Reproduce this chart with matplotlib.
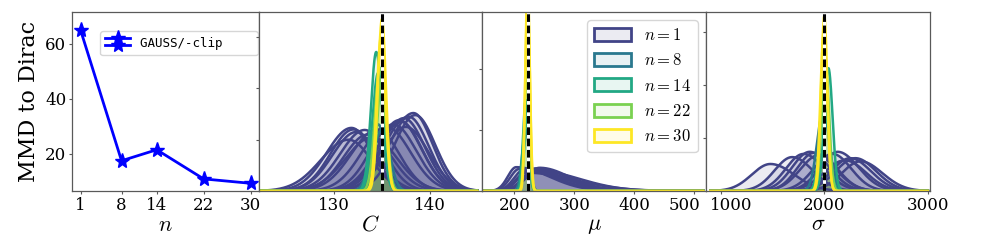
import numpy as np
import matplotlib.pyplot as plt
from matplotlib.colors import to_rgb
from matplotlib.patches import Patch
from matplotlib.transforms import ScaledTranslation
from matplotlib.legend_handler import HandlerLine2D

plt.rcParams['font.family'] = 'serif'
plt.rcParams['font.serif'] = ['DejaVu Serif']
plt.rcParams['mathtext.fontset'] = 'cm'

# MMD to Dirac as a function of n
n_values = [1, 8, 14, 22, 30]
mmd_values = [65.1, 17.5, 21.5, 10.9, 9.3]

n_labels = [1, 8, 14, 22, 30]
n_colors = ['#414487', '#2A788E', '#22A884', '#7AD151', '#FDE725']

# density curves: (centre, spread left, spread right, peak height)
C_n1 = [(131.8, 2.6, 2.2, 1.23), (132.0, 2.4, 2.4, 1.20), (132.3, 2.5, 2.0, 1.15),
        (133.2, 2.6, 2.2, 1.19), (133.5, 2.5, 2.5, 1.10), (134.0, 2.8, 2.6, 1.05),
        (134.5, 2.7, 2.3, 1.20), (135.5, 2.6, 2.5, 1.25), (136.2, 2.4, 2.4, 1.30),
        (136.8, 2.3, 2.3, 1.38), (137.0, 2.5, 2.2, 1.35), (137.3, 2.4, 2.2, 1.42),
        (137.8, 2.6, 2.1, 1.45), (138.3, 2.5, 2.0, 1.52), (138.5, 2.2, 2.1, 1.48),
        (131.5, 2.9, 2.4, 1.00), (137.5, 2.3, 2.4, 1.25)]
C_n8 = [(134.6, 0.8, 0.8, 1.30), (135.0, 0.9, 0.8, 1.20)]
C_n14 = [(134.4, 0.55, 0.6, 2.71), (134.6, 0.6, 0.6, 2.30)]
C_n22 = [(134.8, 0.55, 0.55, 2.40), (135.0, 0.5, 0.5, 2.20)]
C_n30 = [(135.0, 0.42, 0.42, 3.35), (134.9, 0.45, 0.45, 3.00)]

mu_n1 = [(203, 14, 55, 0.39), (208, 15, 60, 0.36), (215, 16, 65, 0.34),
         (225, 18, 60, 0.35), (235, 20, 55, 0.37), (242, 22, 50, 0.38),
         (238, 20, 70, 0.33), (220, 18, 80, 0.30)]
mu_n8 = [(219, 6, 6, 1.00)]
mu_n14 = [(219, 4.5, 4.5, 1.49), (221, 4.5, 4.5, 1.20)]
mu_n22 = [(221, 4, 4, 2.00)]
mu_n30 = [(222, 3.5, 3.5, 3.50), (222, 3.8, 3.8, 3.20)]

sigma_n1 = [(1480, 180, 230, 0.51), (1690, 170, 200, 0.64), (1800, 170, 200, 0.70),
            (1860, 170, 190, 0.74), (1900, 160, 200, 0.72), (1950, 180, 180, 0.68),
            (2080, 180, 180, 0.70), (2130, 170, 200, 0.74), (2250, 180, 200, 0.62),
            (2300, 190, 200, 0.62), (2350, 180, 210, 0.56), (2200, 200, 200, 0.58)]
sigma_n8 = [(1990, 60, 60, 1.50)]
sigma_n14 = [(2040, 40, 40, 2.32), (2000, 45, 45, 1.60)]
sigma_n22 = [(2010, 35, 35, 2.50)]
sigma_n30 = [(2000, 30, 30, 3.30), (1995, 32, 32, 3.00)]

true_C = 135.0
true_mu = 222.0
true_sigma = 2000.0

fig = plt.figure(figsize=(9.96, 2.41), dpi=100)
W, H = 996, 241


def px_axes(x0, x1, y0=12, y1=191):
    return fig.add_axes([x0 / W, (H - y1) / H, (x1 - x0) / W, (y1 - y0) / H])


class TwoRowHandler(HandlerLine2D):
    # the handle is drawn twice, one above the other
    def create_artists(self, legend, orig_handle, xdescent, ydescent,
                       width, height, fontsize, trans):
        arts = []
        for dy in (0.28 * height, -0.28 * height):
            arts += super().create_artists(legend, orig_handle, xdescent, ydescent - 2 * dy,
                                           width, height, fontsize, trans)
        return arts


def style(ax):
    for s in ax.spines.values():
        s.set_color('0.35')
        s.set_linewidth(0.9)
    ax.tick_params(colors='0.35', labelcolor='black', labelsize=12, length=2.5, pad=1.5)


def shift_label(lab, dx_px):
    lab.set_transform(lab.get_transform() + ScaledTranslation(dx_px / 100, 0, fig.dpi_scale_trans))


# panel 1
ax1 = px_axes(72, 259)
line, = ax1.plot(n_values, mmd_values, '*-', color='blue', lw=2, markersize=11,
                 label='GAUSS/-clip    ')
ax1.set_xticks(n_values)
ax1.set_ylim(6.5, 71.6)
ax1.set_yticks([20, 40, 60])
ax1.set_xlabel(r'$n$', fontsize=16, labelpad=0)
ax1.set_ylabel('MMD to Dirac', fontsize=16)
ax1.legend(handles=[line], loc='upper right', bbox_to_anchor=(1.0, 0.9),
           borderaxespad=0.1, prop={'family': 'DejaVu Sans Mono', 'size': 9},
           handler_map={line: TwoRowHandler()}, handleheight=1.3)
style(ax1)


def draw_curves(ax, curves_by_n, xmin, xmax, truth):
    x = np.linspace(xmin, xmax, 800)
    for curves, col in zip(curves_by_n, n_colors):
        for c, sl, sr, h in curves:
            s = np.where(x < c, sl, sr)
            y = h * np.exp(-0.5 * ((x - c) / s) ** 2)
            ax.fill_between(x, 0, y, color=col, alpha=0.1, lw=0)
            ax.plot(x, y, color=col, lw=1.8)
    ax.axvline(truth, color='white', lw=2.2)
    ax.axvline(truth, color='black', lw=2.2, ls=(0, (2.5, 1.2)))


# panel 2: C
ax2 = px_axes(259, 482)
draw_curves(ax2, [C_n1, C_n8, C_n14, C_n22, C_n30], 122.0, 145.0, true_C)
ax2.set_xlim(122.1, 145.5)
ax2.set_ylim(0, 3.49)
ax2.set_xticks([130, 140])
ax2.set_yticks([1, 2, 3])
ax2.set_yticklabels([])
ax2.set_xlabel(r'$C$', fontsize=16, labelpad=0)
style(ax2)

# panel 3: mu
ax3 = px_axes(482, 706)
draw_curves(ax3, [mu_n1, mu_n8, mu_n14, mu_n22, mu_n30], 150.0, 515.0, true_mu)
ax3.set_xlim(146, 519.5)
ax3.set_ylim(0, 2.93)
ax3.set_xticks([200, 300, 400, 500])
ax3.set_yticks([1, 2])
ax3.set_yticklabels([])
ax3.set_xlabel(r'$\mu$', fontsize=16, labelpad=0)
handles = [Patch(facecolor=(*to_rgb(col), 0.1), edgecolor=col, lw=2) for col in n_colors]
ax3.legend(handles=handles, labels=[rf'$n={n}$' for n in n_labels], loc='upper right',
           fontsize=12, handlelength=2.2, handleheight=0.8)
style(ax3)
shift_label(ax3.get_xticklabels()[-1], -10)

# panel 4: sigma
ax4 = px_axes(706, 930)
draw_curves(ax4, [sigma_n1, sigma_n8, sigma_n14, sigma_n22, sigma_n30], 900.0, 3000.0, true_sigma)
ax4.set_xlim(858, 3021)
ax4.set_ylim(0, 3.38)
ax4.set_xticks([1000, 2000, 3000])
ax4.set_yticks([1, 2, 3])
ax4.set_yticklabels([])
ax4.set_xlabel(r'$\sigma$', fontsize=16, labelpad=0)
style(ax4)
shift_label(ax4.get_xticklabels()[0], 10)

fig.savefig('out.png', dpi=100)
